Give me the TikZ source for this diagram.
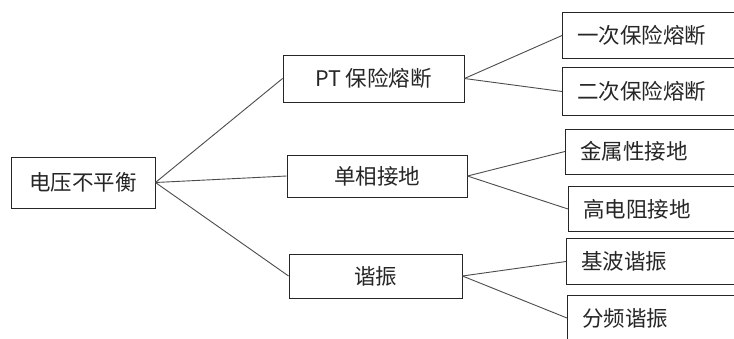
\documentclass[tikz,border=0pt]{standalone}
\usepackage{fontspec}
\setmainfont{Noto Sans CJK SC}
\begin{document}
\begin{tikzpicture}[x=1pt,y=-1pt,
  box/.style={draw=black!85,line width=0.9pt,fill=white,inner sep=0pt,text=black!85,font=\fontsize{21.5}{24}\selectfont},
  leafbox/.style={box,draw=none,anchor=west,text width=300pt,inner xsep=15pt,align=left},
  edge3/.style={draw=black!85,line width=0.9pt},
  link/.style={draw=black!70,line width=0.9pt}]
\useasboundingbox (0,0) rectangle (734,338);
\fill[white] (0,0) rectangle (734,338);
\node[box,minimum width=144pt,minimum height=51pt] (A) at (83,182.5) {电压不平衡};
\node[box,minimum width=181pt,minimum height=47pt] (B) at (373.5,78.5) {PT 保险熔断};
\node[box,minimum width=180pt,minimum height=42pt] (C) at (377,176) {单相接地};
\node[box,minimum width=173pt,minimum height=44pt] (D) at (375.5,276) {谐振};
\node[leafbox,minimum height=45pt] (E1) at (562,35.5) {一次保险熔断};
\node[leafbox,minimum height=47pt] (E2) at (562,91.5) {二次保险熔断};
\node[leafbox,minimum height=44pt] (F1) at (565,151.5) {金属性接地};
\node[leafbox,minimum height=44pt] (F2) at (568,209) {高电阻接地};
\node[leafbox,minimum height=45pt] (G1) at (566,261.5) {基波谐振};
\node[leafbox,minimum height=44pt] (G2) at (567,318) {分频谐振};
\foreach \n in {E1,E2,F1,F2,G1,G2}
  \draw[edge3] (\n.north east) -- (\n.north west) -- (\n.south west) -- (\n.south east);
\draw[link] (A.east) -- (B.west);
\draw[link] (A.east) -- (C.west);
\draw[link] (A.east) -- (D.west);
\draw[link] (B.east) -- (E1.west);
\draw[link] (B.east) -- (E2.west);
\draw[link] (C.east) -- (F1.west);
\draw[link] (C.east) -- (F2.west);
\draw[link] (D.east) -- (G1.west);
\draw[link] (D.east) -- (G2.west);
\end{tikzpicture}
\end{document}
